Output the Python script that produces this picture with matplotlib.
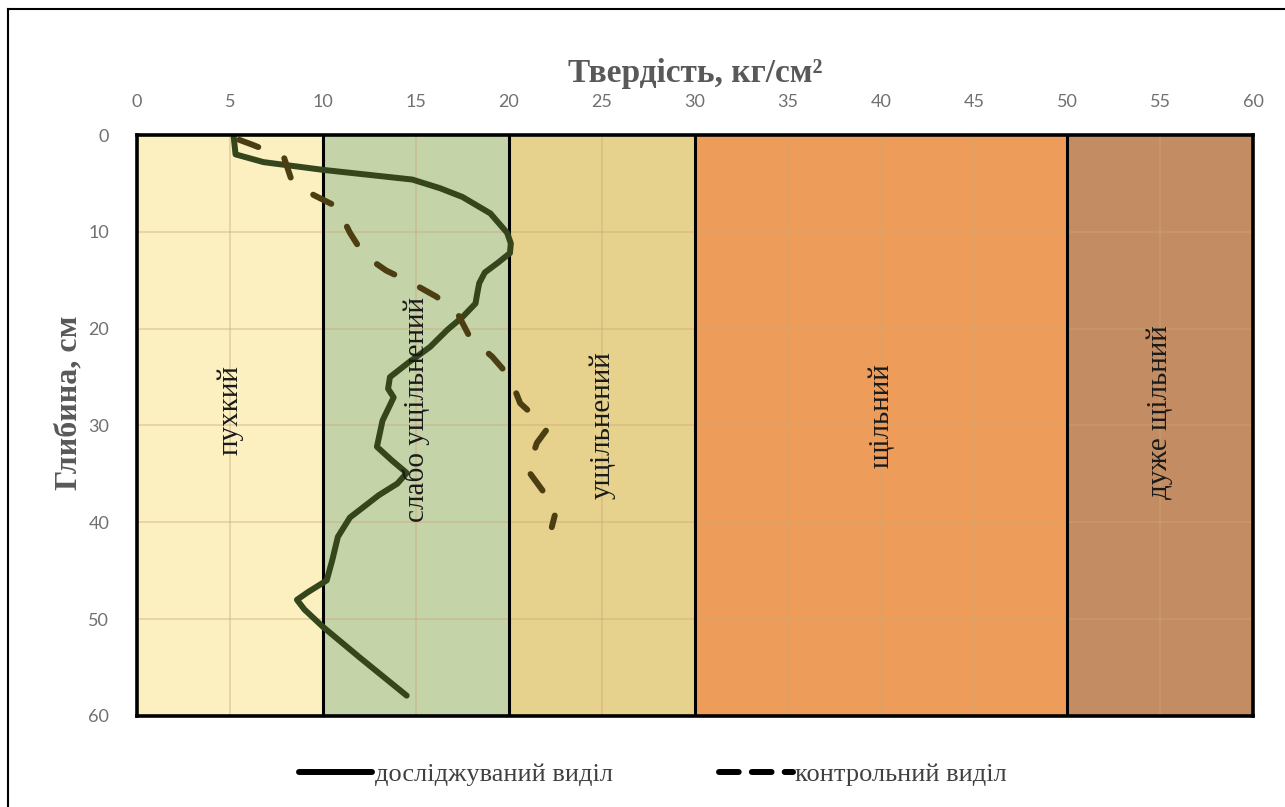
import matplotlib
matplotlib.use("Agg")
import matplotlib.pyplot as plt
from matplotlib.lines import Line2D

# hardness zones (kg/cm2)
zone_edges = [0, 10, 20, 30, 50, 60]
zone_names = ["пухкий", "слабо ущільнений", "ущільнений", "щільний", "дуже щільний"]
zone_colors = ["#FCEFC0", "#C5D3A8", "#E6D28D", "#EE9C5A", "#C48C62"]
zone_label_depth = [28.4, 28.4, 30, 29, 28.6]

# investigated plot (solid)
depth_main = [0.2, 2.0, 2.8, 3.6, 4.6, 5.5, 6.4, 8.1, 10.1, 11.2, 12.2, 13.2, 14.2, 15.3, 16.3,
              17.4, 18.8, 20.1, 21.9, 23.5, 25.0, 26.2, 27.1, 29.5, 32.2, 33.6, 34.9, 36.0,
              37.2, 39.5, 41.5, 43.9, 46.0, 47.2, 48.0, 49.0, 50.8, 54.0, 57.9]
hard_main = [5.2, 5.3, 6.8, 10.0, 14.8, 16.3, 17.5, 19.0, 19.9, 20.1, 20.05, 19.4, 18.7, 18.4, 18.3,
             18.2, 17.5, 16.7, 15.75, 14.6, 13.6, 13.5, 13.8, 13.2, 12.9, 13.7, 14.5, 14.0,
             13.0, 11.45, 10.8, 10.5, 10.2, 9.2, 8.6, 9.0, 10.0, 12.0, 14.5]

# control plot (dashed)
depth_ctrl = [0.5, 1.0, 2.3, 4.6, 6.2, 7.4, 10.1, 12.4, 14.0, 15.3, 16.7, 18.3, 20.9, 22.9,
              25.0, 27.7, 29.8, 30.5, 31.8, 34.6, 36.7, 39.0, 40.5]
hard_ctrl = [5.5, 6.2, 7.9, 8.3, 9.5, 10.75, 11.45, 12.2, 13.4, 14.8, 16.1, 17.2, 17.9, 19.1,
             20.05, 20.6, 21.8, 22.0, 21.5, 21.0, 21.8, 22.5, 22.3]

DASH = (0, (3.4, 4.8))

fig = plt.figure(figsize=(12.85, 8.07), dpi=100)
ax = fig.add_axes([0.1066, 0.1128, 0.8685, 0.7199])

for i, name in enumerate(zone_names):
    x0, x1 = zone_edges[i], zone_edges[i + 1]
    ax.axvspan(x0, x1, color=zone_colors[i], zorder=0, lw=0)
    ax.text((x0 + x1) / 2, zone_label_depth[i], name, rotation=90, ha="center", va="center",
            family="Liberation Serif", fontsize=21, color="#1a1a1a", zorder=4)

ax.set_axisbelow(False)
ax.grid(True, color="#C9A877", alpha=0.45, lw=1.2)
ax.tick_params(zorder=2)
ax.vlines(zone_edges[1:-1], 0, 60, colors="black", lw=2.2, zorder=2.6)

ax.plot(hard_main, depth_main, color="#35461C", lw=4.3, solid_capstyle="round",
        solid_joinstyle="round", zorder=3)
ax.plot(hard_ctrl, depth_ctrl, color="#4A3E12", lw=4.3, linestyle=DASH,
        dash_capstyle="round", zorder=3)

ax.set_xlim(0, 60)
ax.set_ylim(60, 0)
ax.set_xticks(range(0, 61, 5))
ax.set_yticks(range(0, 61, 10))
ax.xaxis.tick_top()
ax.xaxis.set_label_position("top")
ax.tick_params(length=0, labelsize=13, labelcolor="#707070")
ax.tick_params(axis="x", pad=18)
ax.tick_params(axis="y", pad=20)
for lab in ax.get_xticklabels() + ax.get_yticklabels():
    lab.set_family("Lato")

for s in ax.spines.values():
    s.set_linewidth(2.6)
    s.set_color("black")
    s.set_zorder(5)

ax.set_xlabel("Твердість, кг/см²", family="Liberation Serif", fontweight="bold",
              fontsize=24, color="#595959", labelpad=9)
ax.set_ylabel("Глибина, см", family="Liberation Serif", fontweight="bold",
              fontsize=23, color="#595959")
ax.yaxis.set_label_coords(-0.048, 0.54)

handles = [Line2D([], [], color="black", lw=4.3, solid_capstyle="round"),
           Line2D([], [], color="black", lw=4.3, linestyle=(0, (3.3, 2.2)), dash_capstyle="round")]
labels = ["досліджуваний виділ", "контрольний виділ"]
leg = fig.legend(handles, labels, loc="center", bbox_to_anchor=(0.508, 0.04), ncol=2,
                 frameon=False, prop={"family": "Liberation Serif", "size": 19},
                 handlelength=2.8, handletextpad=0.1, columnspacing=4.0)
for t in leg.get_texts():
    t.set_color("#404040")

# outer frame (right and bottom edges fall outside the picture)
fig.add_artist(Line2D([0.0062, 1.0], [0.989, 0.989], transform=fig.transFigure, color="black", lw=1.5))
fig.add_artist(Line2D([0.0062, 0.0062], [0.0, 0.989], transform=fig.transFigure, color="black", lw=1.5))

fig.savefig("out.png", dpi=100, facecolor="white")
